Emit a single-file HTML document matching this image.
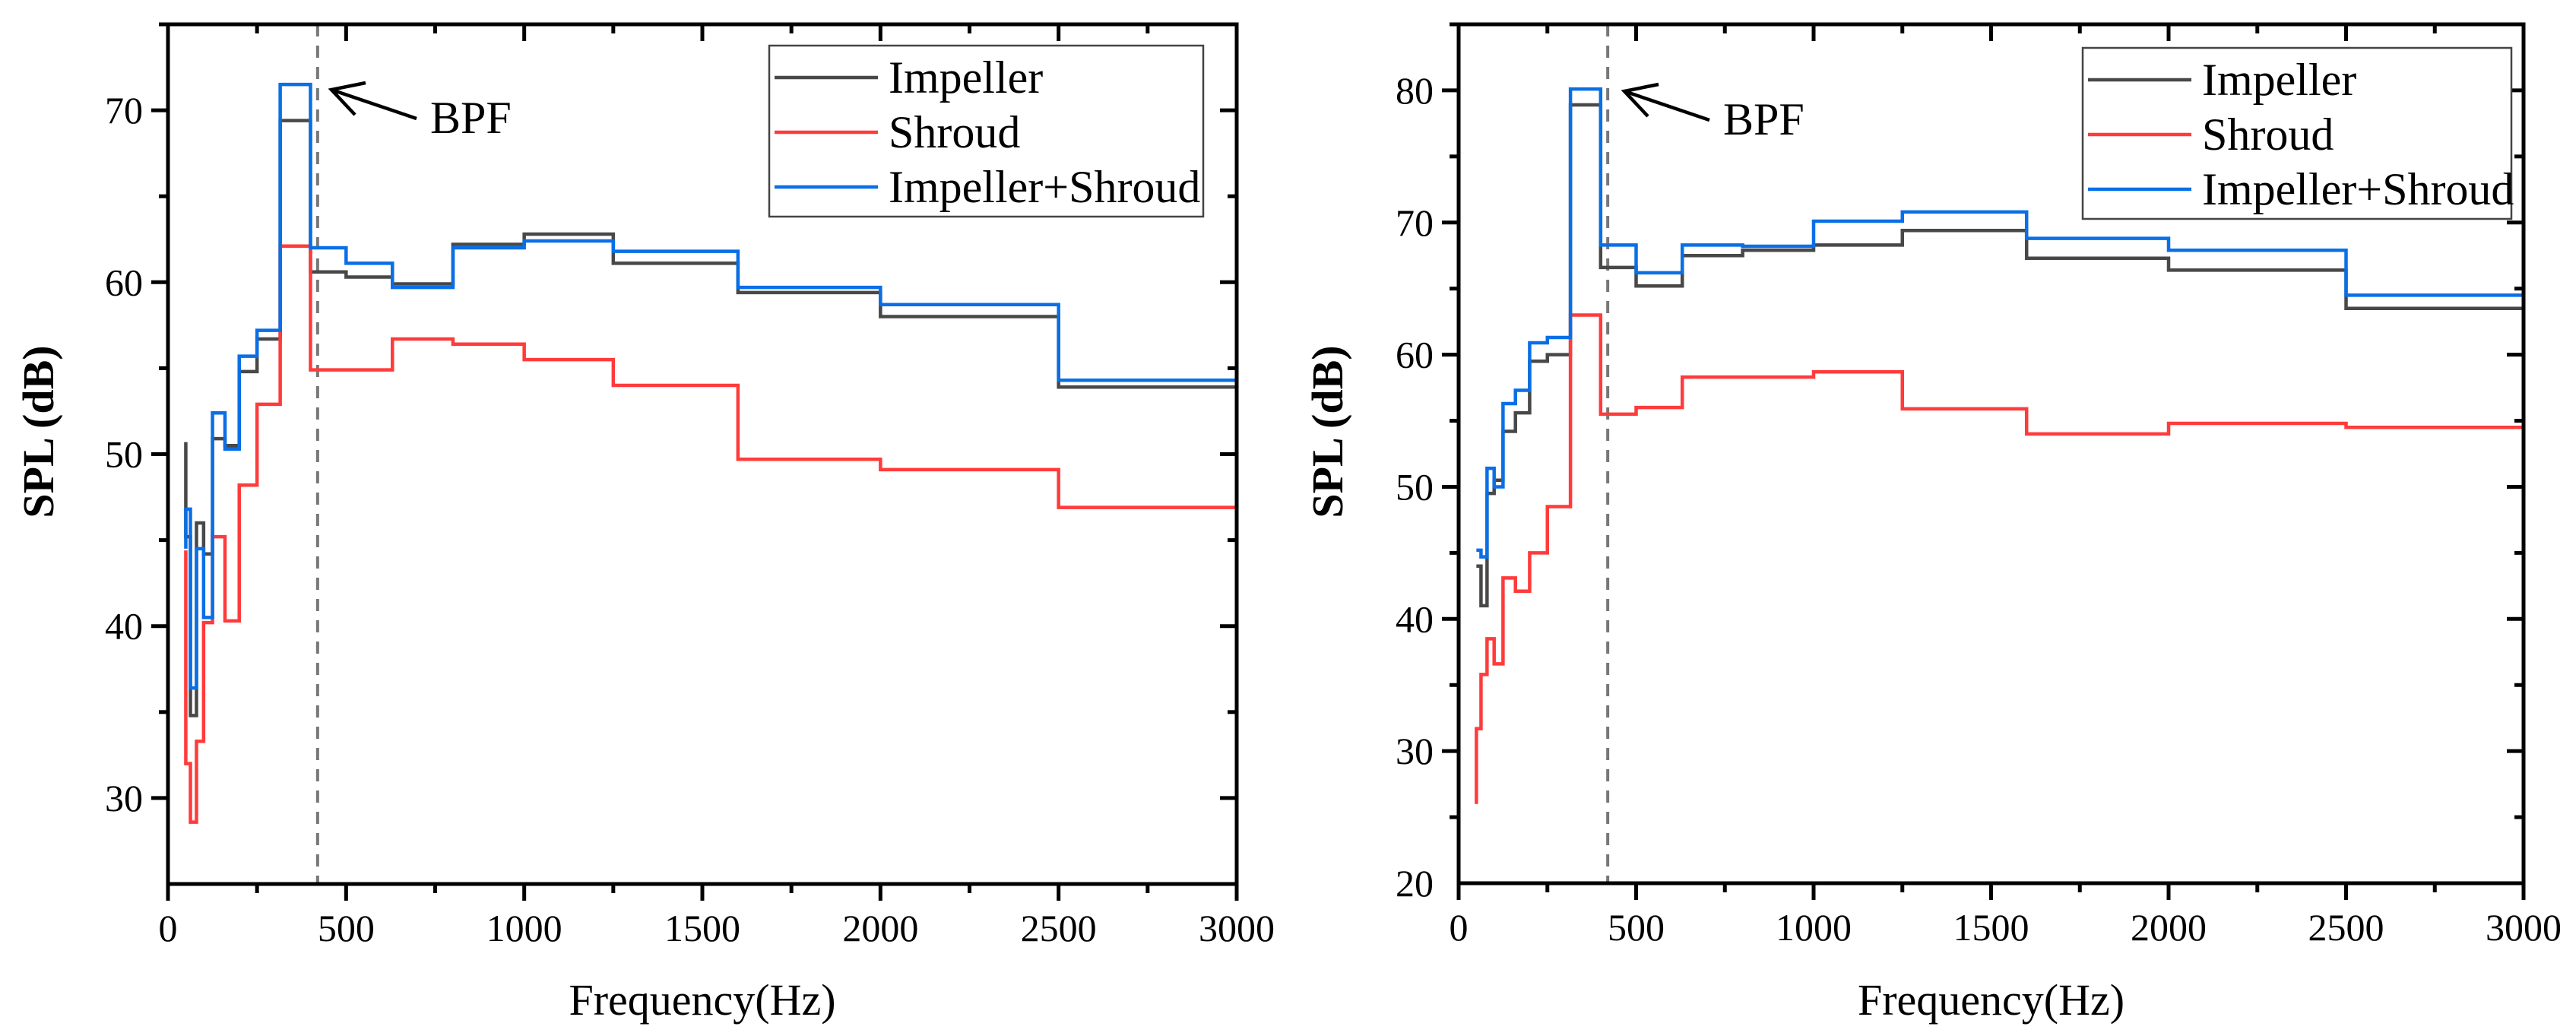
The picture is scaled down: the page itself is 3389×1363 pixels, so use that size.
<!DOCTYPE html>
<html><head><meta charset="utf-8"><style>
html,body{margin:0;padding:0;background:#fff;}
svg{display:block;font-family:"Liberation Serif",serif;}
</style></head><body>
<svg id="fig" width="3389" height="1363" viewBox="0 0 3389 1363" xmlns="http://www.w3.org/2000/svg"></svg>
<script>
// Band center frequencies (Hz)
const bands = [50,63,80,100,125,160,200,250,315,400,500,630,800,1000,1250,1600,2000,2500];
// Left chart series (dB)
const leftImpeller = [45.2,34.8,46.0,44.2,50.9,50.5,54.8,56.7,69.4,60.6,60.3,59.9,62.2,62.8,61.1,59.4,58.0,53.9];
const leftShroud   = [32.0,28.6,33.3,40.2,45.2,40.3,48.2,52.9,62.1,54.9,54.9,56.7,56.4,55.5,54.0,49.7,49.1,46.9];
const leftBoth     = [46.8,36.4,44.5,40.5,52.4,50.3,55.7,57.2,71.5,62.0,61.1,59.7,62.0,62.4,61.8,59.7,58.7,54.3];
const leftStart    = [50.7,44.4,44.5];
// Right chart series (dB)
const rightImpeller = [44.0,41.0,49.5,50.5,54.2,55.6,59.5,60.0,78.9,66.6,65.2,67.5,67.9,68.3,69.4,67.3,66.4,63.5];
const rightShroud   = [31.7,35.8,38.5,36.6,43.1,42.1,45.0,48.5,63.0,55.5,56.0,58.3,58.3,58.7,55.9,54.0,54.8,54.5];
const rightBoth     = [45.2,44.7,51.4,50.0,56.3,57.3,60.9,61.3,80.1,68.3,66.2,68.3,68.2,70.1,70.8,68.8,67.9,64.5];
const rightStart    = [44.0,26.0,45.2];
const xTicks = [0,500,1000,1500,2000,2500,3000];
const leftYTicks = [30,40,50,60,70];
const rightYTicks = [20,30,40,50,60,70,80];
const seriesNames = ['Impeller','Shroud','Impeller+Shroud'];
const colors = ['#484848','#ff3b3b','#0a6fe6'];
const NS = 'http://www.w3.org/2000/svg';
const svg = document.getElementById('fig');
function mk(tag, attrs, parent){const e=document.createElementNS(NS,tag);for(const k in attrs)e.setAttribute(k,attrs[k]);(parent||svg).appendChild(e);return e;}

function chart(cfg){
  const g = mk('g',{});
  
  
  const L=cfg.L,R=cfg.R,T=cfg.T,B=cfg.B;
  const sx = v => L + (v-0)/(3000-0)*(R-L);
  const sy = v => B - (v-cfg.ymin)/(cfg.ymax-cfg.ymin)*(B-T);
  const bl = mk('line',{x1:sx(420),x2:sx(420),y1:T,y2:B,stroke:'#777','stroke-width':4,'stroke-dasharray':'16,12'},g);
  
  
  const data=[cfg.imp,cfg.shr,cfg.both];
  [0,1,2].forEach(si=>{
    const vals=data[si];
    let d='M'+sx(bands[0])+','+sy(cfg.start[si])+' L'+sx(bands[0])+','+sy(vals[0]);
    for(let i=0;i<bands.length;i++){
      const xn = i+1<bands.length ? bands[i+1] : 3000;
      d+=' L'+sx(xn)+','+sy(vals[i]);
      if(i+1<bands.length) d+=' L'+sx(xn)+','+sy(vals[i+1]);
    }
    const p=mk('path',{d:d,fill:'none',stroke:colors[si],'stroke-width':4.5,'stroke-linejoin':'miter'},g);
    
    
  });
  const fr=mk('rect',{x:L,y:T,width:R-L,height:B-T,fill:'none',stroke:'#000','stroke-width':5},g);
  
  
  for(let v=0;v<=3000;v+=250){
    const major = v%500===0;
    const len = major?22:12;
    mk('line',{x1:sx(v),x2:sx(v),y1:B,y2:B+len,stroke:'#000','stroke-width':5},g);
    mk('line',{x1:sx(v),x2:sx(v),y1:T,y2:T+len,stroke:'#000','stroke-width':5},g);
  }
  xTicks.forEach(v=>{
    const t=mk('text',{x:sx(v),y:B+75,'text-anchor':'middle','font-size':50},g);
    t.textContent=v;
    
    
  });
  for(let v=cfg.ymin;v<=cfg.ymax;v+=5){
    if(v===cfg.ymin) continue;
    const major = v%10===0;
    const len = major?22:12;
    mk('line',{x1:L-len,x2:L,y1:sy(v),y2:sy(v),stroke:'#000','stroke-width':5},g);
    mk('line',{x1:R-len,x2:R,y1:sy(v),y2:sy(v),stroke:'#000','stroke-width':5},g);
  }
  cfg.yticks.forEach(v=>{
    const t=mk('text',{x:L-33,y:sy(v)+17,'text-anchor':'end','font-size':50},g);
    t.textContent=v;
    
    
  });
  const xt=mk('text',{x:(L+R)/2,y:1335,'text-anchor':'middle','font-size':58},g);
  xt.textContent='Frequency(Hz)';
  
  
  const yt=mk('text',{x:0,y:0,'text-anchor':'middle','font-size':58,'font-weight':'bold',transform:'translate('+(cfg.ytx)+',568) rotate(-90)'},g);
  yt.textContent='SPL (dB)';
  
  
  const ax=cfg.arrowX, ay=cfg.arrowY;
  const ar=mk('path',{d:'M'+(ax+112)+','+(ay+38)+' L'+ax+','+ay+' M'+(ax+45)+','+(ay-9)+' L'+ax+','+ay+' L'+(ax+31)+','+(ay+33),fill:'none',stroke:'#000','stroke-width':4.5},g);
  
  
  const bt=mk('text',{x:ax+130,y:ay+57,'font-size':60},g);
  bt.textContent='BPF';
  
  
  const lg=mk('g',{},g);
  
  
  mk('rect',{x:cfg.lgX,y:cfg.lgY,width:cfg.lgW,height:225,fill:'#fff',stroke:'#444','stroke-width':2.5},lg);
  [0,1,2].forEach(i=>{
    const yy=cfg.lgY+42+i*72;
    const ln=mk('line',{x1:cfg.lgX+7,x2:cfg.lgX+143,y1:yy,y2:yy,stroke:colors[i],'stroke-width':4.5},lg);
    
    
    const tx=mk('text',{x:cfg.lgX+157,y:yy+20,'font-size':60},lg);
    tx.textContent=seriesNames[i];
    
    
  });
}
chart({name:'left-chart',L:221,R:1627,T:32,B:1163,ymin:25,ymax:75,yticks:leftYTicks,imp:leftImpeller,shr:leftShroud,both:leftBoth,start:leftStart,ytx:70,arrowX:436,arrowY:118,lgX:1012,lgY:60,lgW:571});
chart({name:'right-chart',L:1919,R:3320,T:32,B:1162,ymin:20,ymax:85,yticks:rightYTicks,imp:rightImpeller,shr:rightShroud,both:rightBoth,start:rightStart,ytx:1766,arrowX:2137,arrowY:120,lgX:2740,lgY:63,lgW:564});
</script>
</body></html>
